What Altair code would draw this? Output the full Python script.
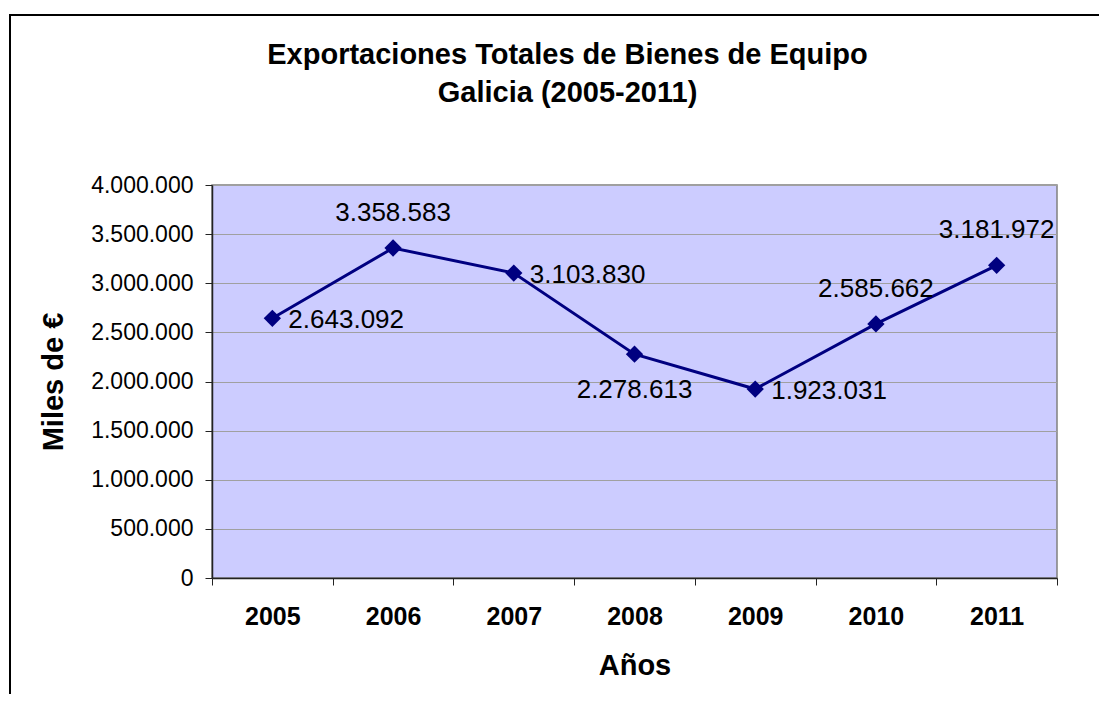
import altair as alt
import pandas as pd

years = ["2005", "2006", "2007", "2008", "2009", "2010", "2011"]
values = [2643092, 3358583, 3103830, 2278613, 1923031, 2585662, 3181972]
labels_right = ["2005", "2007", "2009"]
labels_above = ["2006", "2010", "2011"]
labels_below = ["2008"]
y_ticks = [0, 500000, 1000000, 1500000, 2000000, 2500000, 3000000, 3500000, 4000000]

title_lines = ["Exportaciones Totales de Bienes de Equipo", "Galicia (2005-2011)"]
x_title = "Años"
y_title = "Miles de €"

df = pd.DataFrame({"Año": years, "Valor": values})

FONT = "Liberation Sans"
NAVY = "#000080"
W, H = 845, 393

x_enc = alt.X(
    "Año:N",
    sort=years,
    bandPosition=0.5,
    scale=alt.Scale(type="band", paddingInner=0, paddingOuter=0),
    axis=alt.Axis(
        title=x_title,
        tickBand="extent",
        grid=False,
        labelAngle=0,
        labelFont=FONT,
        labelFontWeight="bold",
        labelFontSize=25,
        labelColor="black",
        labelBaseline="top",
        labelPadding=19,
        tickSize=7,
        tickColor="#222222",
        domainColor="#222222",
        domainWidth=1.5,
        titleFont=FONT,
        titleFontWeight="bold",
        titleFontSize=29,
        titleColor="black",
        titleX=W / 2,
        titleY=96,
        titleBaseline="alphabetic",
        titleAlign="center",
    ),
)

y_enc = alt.Y(
    "Valor:Q",
    scale=alt.Scale(domain=[0, 4000000], nice=False),
    axis=alt.Axis(
        title=y_title,
        values=y_ticks,
        format=",d",
        grid=True,
        gridColor="#A0A0A0",
        gridWidth=1,
        labelFont=FONT,
        labelFontSize=23,
        labelColor="black",
        labelPadding=12,
        tickSize=7,
        tickColor="#222222",
        domainColor="#222222",
        domainWidth=1.5,
        titleFont=FONT,
        titleFontWeight="bold",
        titleFontSize=29,
        titleColor="black",
        titleAngle=270,
        titleX=-150,
        titleY=H / 2,
        titleBaseline="alphabetic",
        titleAlign="center",
    ),
)

base = alt.Chart(df).encode(x=x_enc, y=y_enc)

line = base.mark_line(color=NAVY, strokeWidth=3)
points = base.mark_point(shape="diamond", filled=True, size=300, color=NAVY, opacity=1)

lbl_fmt = ",d"
text_right = base.mark_text(
    font=FONT, fontSize=26, color="black", align="left", baseline="middle", dx=16, dy=2
).encode(text=alt.Text("Valor:Q", format=lbl_fmt)).transform_filter(
    alt.FieldOneOfPredicate(field="Año", oneOf=labels_right)
)
text_above = base.mark_text(
    font=FONT, fontSize=26, color="black", align="center", baseline="middle", dy=-35
).encode(text=alt.Text("Valor:Q", format=lbl_fmt)).transform_filter(
    alt.FieldOneOfPredicate(field="Año", oneOf=labels_above)
)
text_below = base.mark_text(
    font=FONT, fontSize=26, color="black", align="center", baseline="middle", dy=36
).encode(text=alt.Text("Valor:Q", format=lbl_fmt)).transform_filter(
    alt.FieldOneOfPredicate(field="Año", oneOf=labels_below)
)

frame = alt.Chart(pd.DataFrame({"f": [0]})).mark_rect(
    fillOpacity=0, stroke="black", strokeWidth=2
).encode(
    x=alt.value(-202), x2=alt.value(1300), y=alt.value(-170), y2=alt.value(1000)
)

chart = alt.layer(frame, line, points, text_right, text_above, text_below).properties(
    width=W,
    height=H,
    autosize=alt.AutoSizeParams(type="none"),
    padding={"left": 204, "top": 177, "right": 42, "bottom": 116},
    title=alt.TitleParams(
        text=title_lines,
        font=FONT,
        fontSize=29,
        fontWeight="bold",
        color="black",
        anchor="middle",
        frame="group",
        dx=-67,
        offset=-123,
        lineHeight=38,
        baseline="bottom",
    ),
).configure(
    background="white",
    locale=alt.Locale(
        number=alt.NumberLocale(decimal=",", thousands=".", grouping=[3], currency=["", "€"])
    ),
).configure_view(
    stroke="#808080", strokeWidth=1.5, fill="#CCCCFF"
)

chart.save("out.html", embed_options={"renderer": "svg", "actions": False})
